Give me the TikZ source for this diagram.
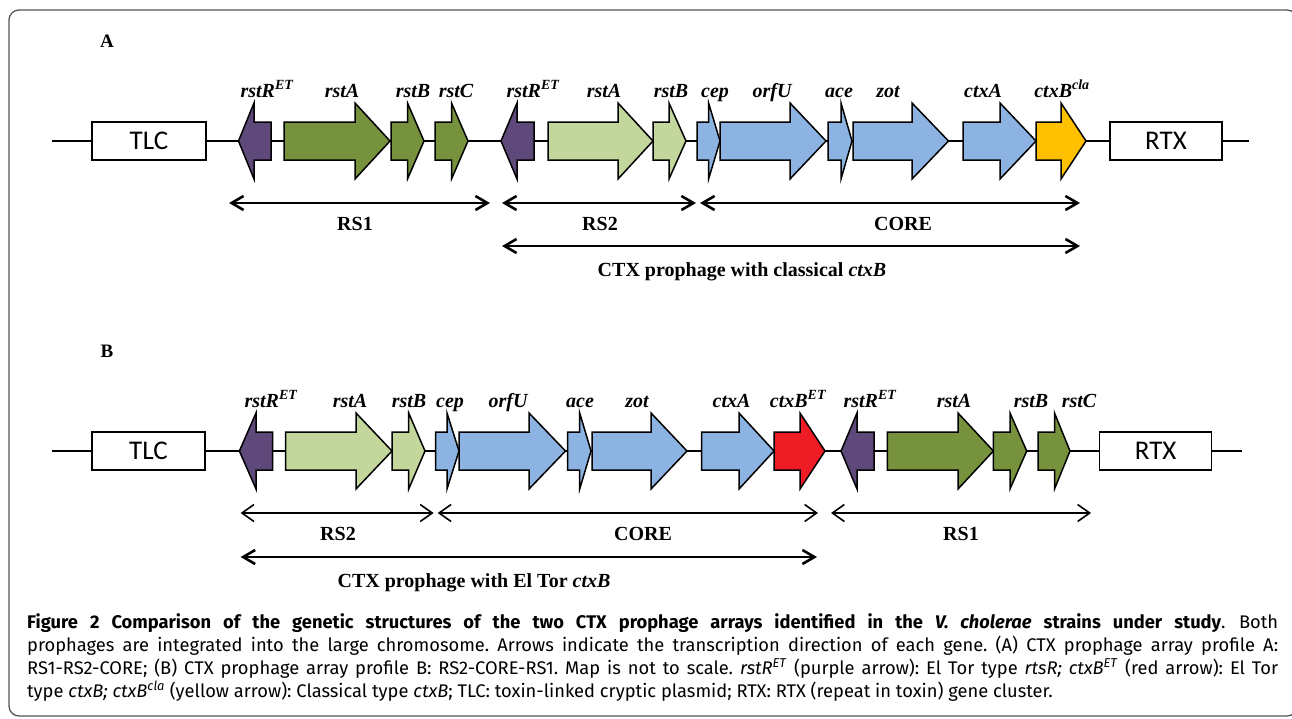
\documentclass[tikz,border=0pt]{standalone}
\usepackage{fontspec}
\setmainfont{Liberation Serif}
\newfontfamily\capfont{Fira Sans}
\newfontfamily\boxfont{Carlito}
\usetikzlibrary{arrows.meta}
\definecolor{gpurple}{HTML}{5F497A}
\definecolor{gdark}{HTML}{76923C}
\definecolor{glight}{HTML}{C3D69B}
\definecolor{gblue}{HTML}{8DB3E2}
\definecolor{gyellow}{HTML}{FFC000}
\definecolor{gred}{HTML}{EE1C25}
\definecolor{framegray}{HTML}{555555}
\newcommand\GeneR[5]{\filldraw[gene, fill=#1] (#2,{#5-19}) -- (#3,{#5-19}) -- (#3,{#5-38}) -- (#4,#5) -- (#3,{#5+38}) -- (#3,{#5+19}) -- (#2,{#5+19}) -- cycle;}
\newcommand\GeneL[5]{\filldraw[gene, fill=#1] (#4,{#5-19}) -- (#3,{#5-19}) -- (#3,{#5-38}) -- (#2,#5) -- (#3,{#5+38}) -- (#3,{#5+19}) -- (#4,{#5+19}) -- cycle;}
\begin{document}
\begin{tikzpicture}[x=1pt,y=-1pt,
  gene/.style={draw=black, line width=1.5pt, line join=miter},
  chrom/.style={line width=2pt},
  locus/.style={draw, line width=1.6pt, fill=white, minimum width=114pt, minimum height=38pt, inner sep=0pt, font=\boxfont\fontsize{27}{30}\selectfont},
  glabel/.style={font=\bfseries\itshape\fontsize{20}{24}\selectfont, anchor=base, inner sep=0pt},
  rlabel/.style={font=\bfseries\fontsize{20}{24}\selectfont, anchor=base, inner sep=0pt},
  panel/.style={font=\bfseries\fontsize{19}{22}\selectfont, anchor=base, inner sep=0pt},
  rangeA/.style={line width=2.6pt, {Straight Barb[length=12pt,width=14pt]}-{Straight Barb[length=12pt,width=14pt]}},
  rangeB/.style={line width=1.6pt, {Straight Barb[length=12pt,width=17pt]}-{Straight Barb[length=12pt,width=17pt]}},
  capnode/.style={anchor=base west, inner sep=0pt, text width=1251pt, align=justify, font=\capfont\fontsize{18.3}{23}\selectfont}
]
\useasboundingbox (0,0) rectangle (1292,718);
% frame
\draw[framegray, line width=1.3pt, rounded corners=10pt] (9,10) rectangle (1297,716);

% ================= Panel A =================
\node[panel] (labA) at (107,47) {A};
\coordinate (aL) at (52,141);
\coordinate (aR) at (1249,141);
\draw[chrom] (aL) -- (aR);
\node[locus] (tlcA) at (149,141) {TLC};
\node[locus, minimum width=112pt] (rtxA) at (1166,141) {RTX};
\GeneL{gpurple}{238.5}{254}{271}{141}
\GeneR{gdark}{284}{355}{390}{141}
\GeneR{gdark}{391}{407.5}{424}{141}
\GeneR{gdark}{435}{451.5}{468}{141}
\GeneL{gpurple}{501}{517}{534}{141}
\GeneR{glight}{548}{618}{653}{141}
\GeneR{glight}{653}{669}{686}{141}
\GeneR{gblue}{697}{708.6}{720}{141}
\GeneR{gblue}{720}{790}{826}{141}
\GeneR{gblue}{828}{841}{852}{141}
\GeneR{gblue}{853}{912}{948.5}{141}
\GeneR{gblue}{963}{1000}{1036}{141}
\GeneR{gyellow}{1036}{1061}{1086}{141}

\node[glabel] (a1) at (267,97) {rstR\textsuperscript{ET}};
\node[glabel] (a2) at (342,97) {rstA};
\node[glabel] (a3) at (413,97) {rstB};
\node[glabel] (a4) at (456,97) {rstC};
\node[glabel] (a5) at (533,97) {rstR\textsuperscript{ET}};
\node[glabel] (a6) at (604,97) {rstA};
\node[glabel] (a7) at (671,97) {rstB};
\node[glabel] (a8) at (715,97) {cep};
\node[glabel] (a9) at (772,97) {orfU};
\node[glabel] (a10) at (839,97) {ace};
\node[glabel] (a11) at (888,97) {zot};
\node[glabel] (a12) at (983,97) {ctxA};
\node[glabel] (a13) at (1062,97) {ctxB\textsuperscript{cla}};

\coordinate (aRS1l) at (229,203);
\coordinate (aRS1r) at (490,203);
\coordinate (aRS2l) at (502,203);
\coordinate (aRS2r) at (696,203);
\coordinate (aCOl) at (700,203);
\coordinate (aCOr) at (1080,203);
\coordinate (aCTl) at (502,246);
\coordinate (aCTr) at (1080,246);
\draw[rangeA] (aRS1l) -- (aRS1r);
\draw[rangeA] (aRS2l) -- (aRS2r);
\draw[rangeA] (aCOl) -- (aCOr);
\draw[rangeA] (aCTl) -- (aCTr);
\node[rlabel] (aRS1) at (355,230) {RS1};
\node[rlabel] (aRS2) at (600,230) {RS2};
\node[rlabel] (aCORE) at (903,230) {CORE};
\node[rlabel] (aCTX) at (742,276) {CTX prophage with classical \textit{ctxB}};

% ================= Panel B =================
\node[panel] (labB) at (107,357) {B};
\coordinate (bL) at (52,451);
\coordinate (bR) at (1242,451);
\draw[chrom] (bL) -- (bR);
\node[locus, minimum width=113pt] (tlcB) at (148.5,451) {TLC};
\node[locus, minimum width=112pt] (rtxB) at (1155.6,451) {RTX};
\GeneL{gpurple}{239.4}{256}{272.6}{451}
\GeneR{glight}{285.5}{356}{392}{451}
\GeneR{glight}{392}{408.7}{425}{451}
\GeneR{gblue}{435.7}{447}{459}{451}
\GeneR{gblue}{459}{529}{565.5}{451}
\GeneR{gblue}{567.6}{579.7}{591}{451}
\GeneR{gblue}{592}{651}{687}{451}
\GeneR{gblue}{701.5}{739}{774}{451}
\GeneR{gred}{774}{800}{825}{451}
\GeneL{gpurple}{841}{857}{874}{451}
\GeneR{gdark}{887.4}{958}{993.4}{451}
\GeneR{gdark}{993.4}{1010}{1026.7}{451}
\GeneR{gdark}{1038}{1054.5}{1070}{451}

\node[glabel] (b1) at (271,407) {rstR\textsuperscript{ET}};
\node[glabel] (b2) at (350,407) {rstA};
\node[glabel] (b3) at (409,407) {rstB};
\node[glabel] (b4) at (450,407) {cep};
\node[glabel] (b5) at (508,407) {orfU};
\node[glabel] (b6) at (580,407) {ace};
\node[glabel] (b7) at (637,407) {zot};
\node[glabel] (b8) at (731.5,407) {ctxA};
\node[glabel] (b9) at (798,407) {ctxB\textsuperscript{ET}};
\node[glabel] (b10) at (870,407) {rstR\textsuperscript{ET}};
\node[glabel] (b11) at (954,407) {rstA};
\node[glabel] (b12) at (1031,407) {rstB};
\node[glabel] (b13) at (1079,407) {rstC};

\coordinate (bRS2l) at (240.6,513);
\coordinate (bRS2r) at (433.6,513);
\coordinate (bCOl) at (437.7,513);
\coordinate (bCOr) at (818,513);
\coordinate (bRS1l) at (831,513);
\coordinate (bRS1r) at (1091,513);
\coordinate (bCTl) at (240.6,557);
\coordinate (bCTr) at (817,557);
\draw[rangeB] (bRS2l) -- (bRS2r);
\draw[rangeB] (bCOl) -- (bCOr);
\draw[rangeB] (bRS1l) -- (bRS1r);
\draw[rangeA] (bCTl) -- (bCTr);
\node[rlabel] (bRS2) at (338,540) {RS2};
\node[rlabel] (bCORE) at (643,540) {CORE};
\node[rlabel] (bRS1) at (961,540) {RS1};
\node[rlabel] (bCTX) at (474,587) {CTX prophage with El Tor \textit{ctxB}};

% ================= Caption =================
\node[capnode] (caption) at (27,628) {\parindent=0pt\hyphenpenalty=10000\frenchspacing\textbf{Figure 2 Comparison of the genetic structures of the two CTX prophage arrays identified in the \textit{V. cholerae} strains under study}. Both\linebreak
prophages are integrated into the large chromosome. Arrows indicate the transcription direction of each gene. (A) CTX prophage array profile A:\linebreak
RS1-RS2-CORE; (B) CTX prophage array profile B: RS2-CORE-RS1. Map is not to scale. \textit{rstR}\textsuperscript{\textit{ET}} (purple arrow): El Tor type \textit{rtsR; ctxB}\textsuperscript{\textit{ET}} (red arrow): El Tor\linebreak
type \textit{ctxB; ctxB}\textsuperscript{\textit{cla}} (yellow arrow): Classical type \textit{ctxB}; TLC: toxin-linked cryptic plasmid; RTX: RTX (repeat in toxin) gene cluster.};
\end{tikzpicture}
\end{document}
